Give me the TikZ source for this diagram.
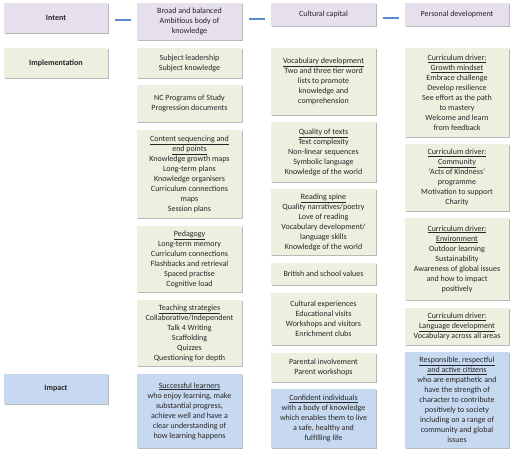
\documentclass[tikz,border=0pt]{standalone}
\usepackage{fontspec}
\setmainfont{Carlito}
\usetikzlibrary{shadows}
\definecolor{lav}{HTML}{E6E0EC}
\definecolor{grn}{HTML}{EBF1DE}
\definecolor{blu}{HTML}{C6D9F1}
\definecolor{arrowblue}{HTML}{5B8BC9}
\definecolor{txt}{HTML}{262626}
\tikzset{
  box/.style={minimum width=104pt, align=center, inner sep=1pt, outer sep=0pt,
    font=\fontsize{8}{10}\selectfont, text=txt,
    drop shadow={shadow xshift=0.8pt, shadow yshift=-1.3pt, fill=black, opacity=0.28}},
  pbox/.style={box, fill=lav},
  gbox/.style={box, fill=grn},
  bbox/.style={box, fill=blu},
  conn/.style={draw=arrowblue, line width=2pt, shorten <=6.5pt, shorten >=6.5pt},
}
\begin{document}
\begin{tikzpicture}[x=1pt,y=-1pt]
\useasboundingbox[fill=white] (0,0) rectangle (512,453);
% column 1
\node[pbox, minimum height=30pt] (intent) at (56,18) {\textbf{Intent}};
\node[gbox, minimum height=30pt] (impl) at (56,63) {\textbf{Implementation}};
\node[bbox, minimum height=30pt] (impact) at (56,389) {\textbf{Impact}};
% column 2
\node[pbox, minimum width=105pt, minimum height=37pt] (broad) at (189.5,21.5) {Broad and balanced\\Ambitious body of\\knowledge};
\node[gbox, minimum width=105pt, minimum height=30pt] (subj) at (189.5,63) {Subject leadership\\Subject knowledge};
\node[gbox, minimum width=105pt, minimum height=37pt] (nc) at (189.5,103.5) {NC Programs of Study\\Progression documents};
\node[gbox, minimum width=105pt, minimum height=88pt] (content) at (189.5,174) {\underline{Content sequencing and}\\\underline{end points}\\Knowledge growth maps\\Long-term plans\\Knowledge organisers\\Curriculum connections\\maps\\Session plans};
\node[gbox, minimum width=105pt, minimum height=66pt] (peda) at (189.5,259) {\underline{Pedagogy}\\Long-term memory\\Curriculum connections\\Flashbacks and retrieval\\Spaced practise\\Cognitive load};
\node[gbox, minimum width=105pt, minimum height=66pt] (teach) at (189.5,333) {\underline{Teaching strategies}\\Collaborative/Independent\\Talk 4 Writing\\Scaffolding\\Quizzes\\Questioning for depth};
\node[bbox, minimum width=105pt, minimum height=74pt] (succ) at (189.5,411) {\underline{Successful learners}\\who enjoy learning, make\\substantial progress,\\achieve well and have a\\clear understanding of\\how learning happens};
% column 3
\node[pbox, minimum width=105pt, minimum height=23pt] (cult) at (323.5,14.5) {Cultural capital};
\node[gbox, minimum width=105pt, minimum height=67pt] (vocab) at (323.5,81.5) {\underline{Vocabulary development}\\Two and three tier word\\lists to promote\\knowledge and\\comprehension};
\node[gbox, minimum width=105pt, minimum height=60pt] (quality) at (323.5,152) {\underline{Quality of texts}\\Text complexity\\Non-linear sequences\\Symbolic language\\Knowledge of the world};
\node[gbox, minimum width=105pt, minimum height=66pt] (reading) at (323.5,222) {\underline{Reading spine}\\Quality narratives/poetry\\Love of reading\\Vocabulary development/\\language skills\\Knowledge of the world};
\node[gbox, minimum width=105pt, minimum height=22pt] (british) at (323.5,274) {British and school values};
\node[gbox, minimum width=105pt, minimum height=52pt] (cultexp) at (323.5,319) {Cultural experiences\\Educational visits\\Workshops and visitors\\Enrichment clubs};
\node[gbox, minimum width=105pt, minimum height=29pt] (parent) at (323.5,367.5) {Parental involvement\\Parent workshops};
\node[bbox, minimum width=105pt, minimum height=59pt] (conf) at (323.5,418.5) {\underline{Confident individuals}\\with a body of knowledge\\which enables them to live\\a safe, healthy and\\fulfilling life};
% column 4
\node[pbox, minimum height=23pt] (pers) at (457,14.5) {Personal development};
\node[gbox, minimum height=89pt] (growth) at (457,92.5) {\underline{Curriculum driver:}\\\underline{Growth mindset}\\Embrace challenge\\Develop resilience\\See effort as the path\\to mastery\\Welcome and learn\\from feedback};
\node[gbox, minimum height=67pt] (comm) at (457,177.5) {\underline{Curriculum driver:}\\\underline{Community}\\‘Acts of Kindness’\\programme\\Motivation to support\\Charity};
\node[gbox, minimum height=82pt] (env) at (457,259) {\underline{Curriculum driver:}\\\underline{Environment}\\Outdoor learning\\Sustainability\\Awareness of global issues\\and how to impact\\positively};
\node[gbox, minimum height=37pt] (lang) at (457,326.5) {\underline{Curriculum driver:}\\\underline{Language development}\\Vocabulary across all areas};
\node[bbox, minimum height=96pt] (resp) at (457,400) {\underline{Responsible, respectful}\\\underline{and active citizens}\\who are empathetic and\\have the strength of\\character to contribute\\positively to society\\including on a range of\\community and global\\issues};
% connectors
\draw[conn] ([yshift=-2pt]intent.east) -- ([yshift=-2pt]intent.east -| broad.west);
\draw[conn] ([yshift=2.5pt]broad.east) -- ([yshift=2.5pt]broad.east -| cult.west);
\draw[conn] ([yshift=-3pt]cult.east) -- ([yshift=-3pt]cult.east -| pers.west);
\end{tikzpicture}
\end{document}
